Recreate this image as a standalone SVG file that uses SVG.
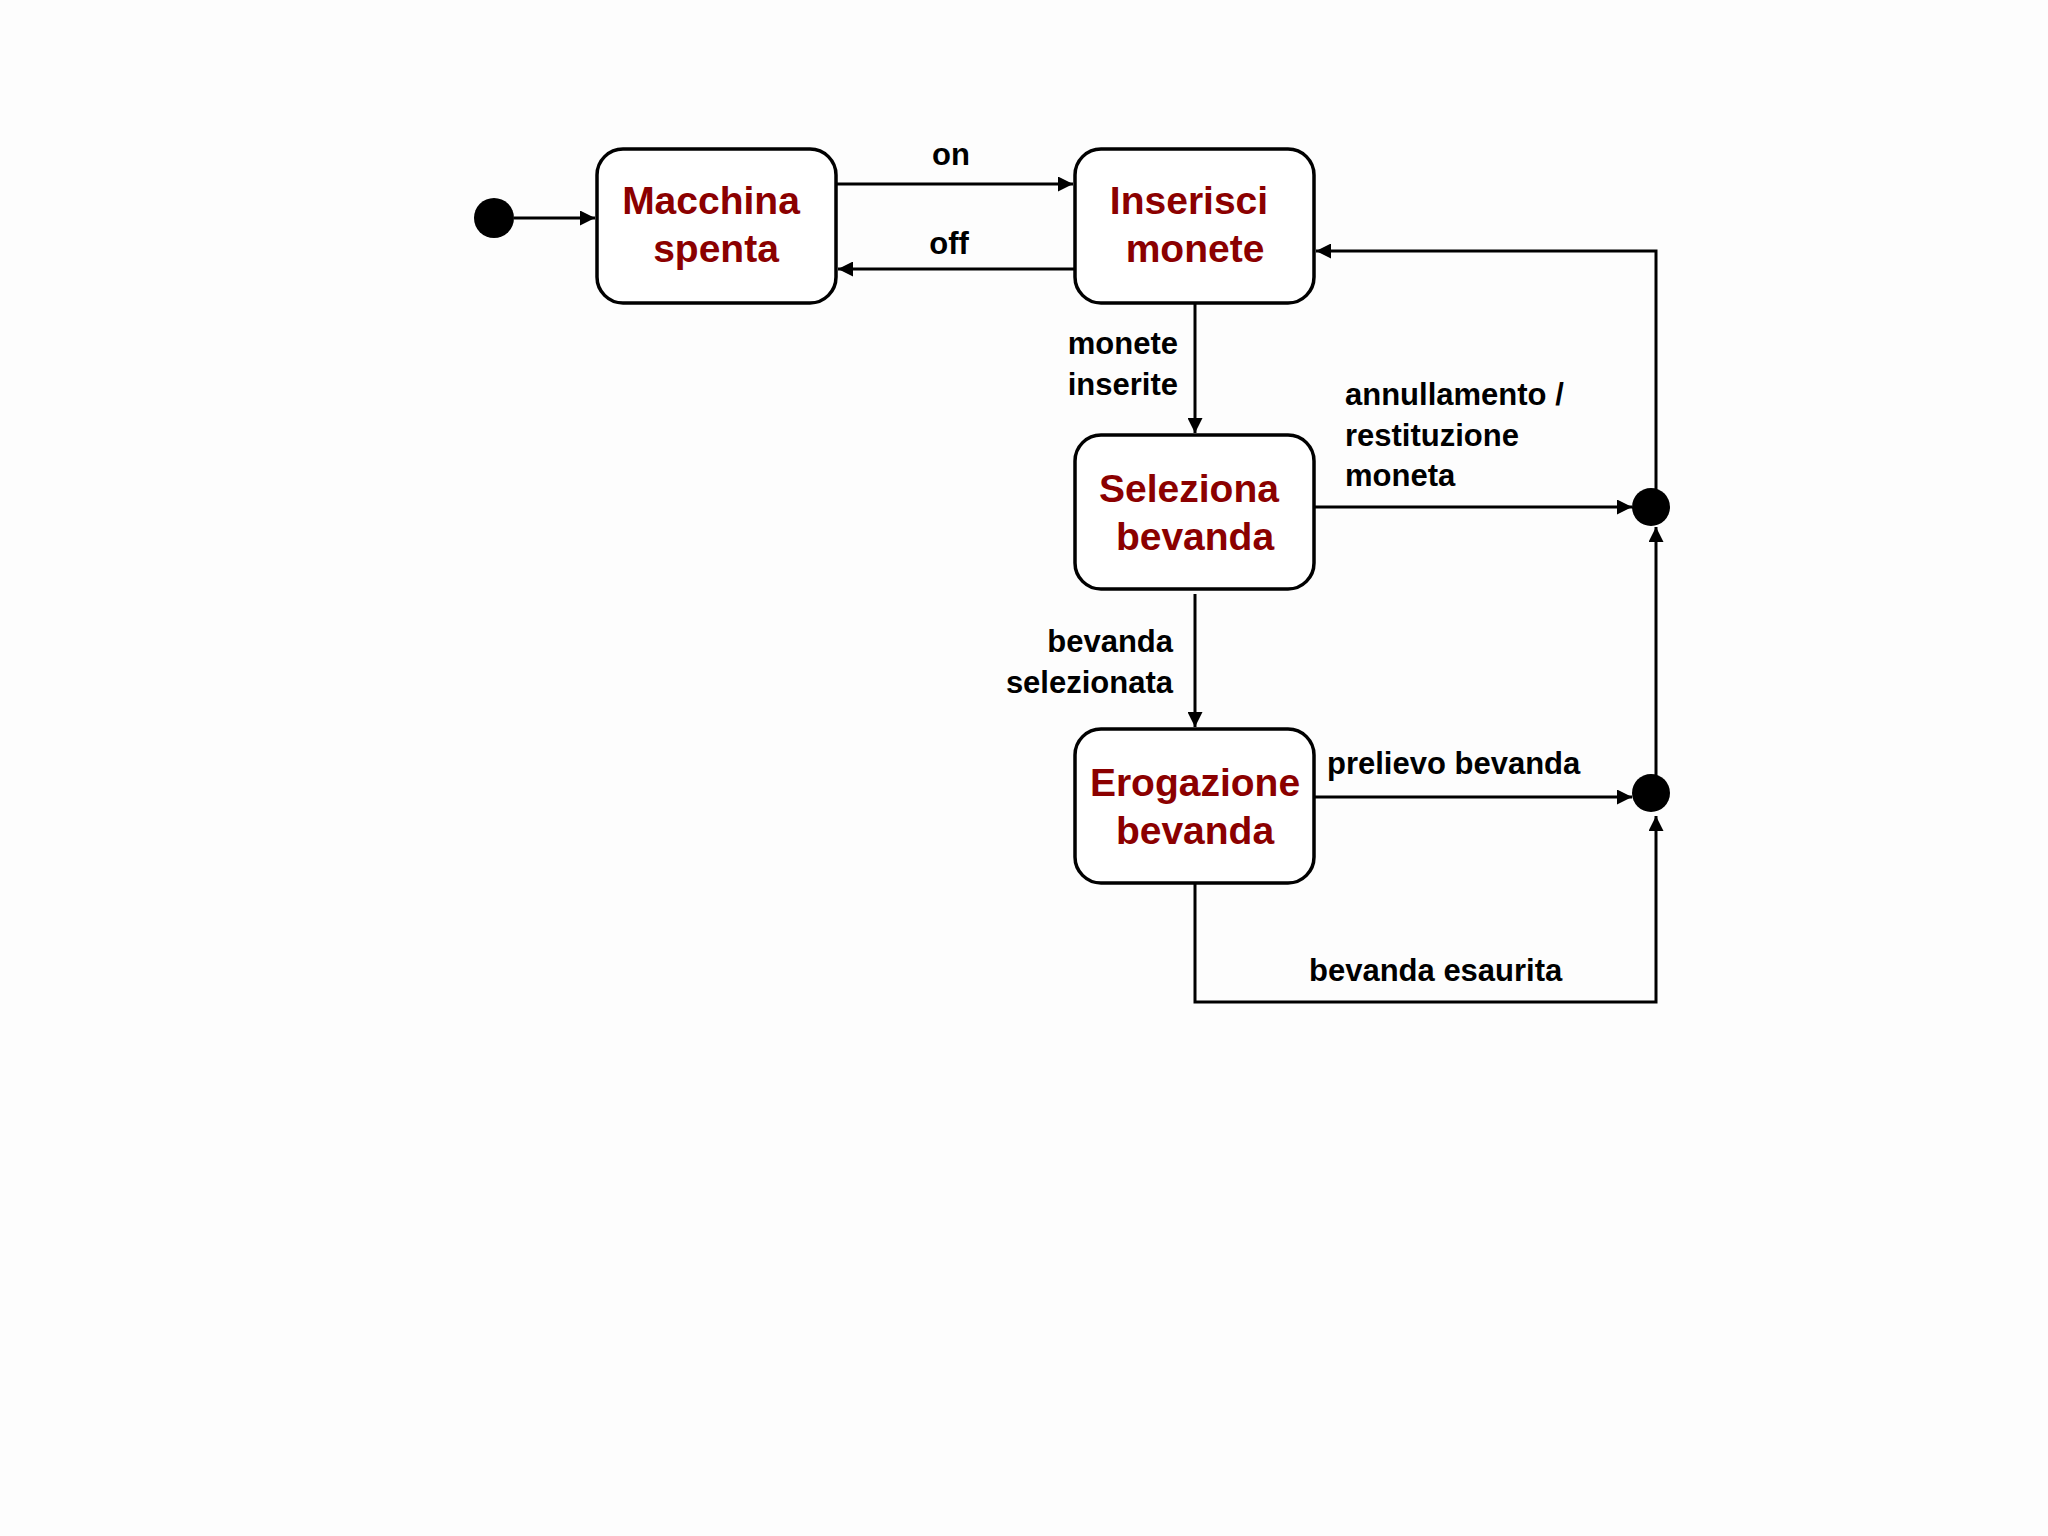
<svg xmlns="http://www.w3.org/2000/svg" width="2048" height="1536" viewBox="0 0 2048 1536">
<style>
.n{fill:#fff;stroke:#000;stroke-width:3.5}
.t{font-family:"Liberation Sans",Arial,sans-serif;font-weight:bold;font-size:39px;fill:#8B0000;text-anchor:middle}
.l{font-family:"Liberation Sans",Arial,sans-serif;font-weight:bold;font-size:31px;fill:#000}
.c{fill:none;stroke:#000;stroke-width:3}
</style>
<defs><marker id="a" viewBox="0 0 10 10" refX="10" refY="5" markerWidth="5" markerHeight="5" orient="auto" markerUnits="strokeWidth"><path d="M0,0L10,5L0,10z"/></marker></defs>
<rect width="2048" height="1536" fill="#fdfdfd"/>
<g id="init"><circle cx="494" cy="218" r="20"/></g>
<g id="macchina"><rect class="n" x="597" y="149" width="239" height="154" rx="26"/><text class="t" x="711" y="214">Macchina</text><text class="t" x="716" y="262">spenta</text></g>
<g id="inserisci"><rect class="n" x="1075" y="149" width="239" height="154" rx="26"/><text class="t" x="1189" y="214">Inserisci</text><text class="t" x="1195" y="262">monete</text></g>
<g id="seleziona"><rect class="n" x="1075" y="435" width="239" height="154" rx="26"/><text class="t" x="1189" y="502">Seleziona</text><text class="t" x="1195" y="550">bevanda</text></g>
<g id="erogazione"><rect class="n" x="1075" y="729" width="239" height="154" rx="26"/><text class="t" x="1195" y="796">Erogazione</text><text class="t" x="1195" y="844">bevanda</text></g>
<g id="j1"><circle cx="1651" cy="507" r="19"/></g>
<g id="j2"><circle cx="1651" cy="793" r="19"/></g>
<g id="connectors">
<path class="c" d="M514,218H595" marker-end="url(#a)"/>
<path class="c" d="M836,184H1073" marker-end="url(#a)"/>
<path class="c" d="M1075,269H838" marker-end="url(#a)"/>
<path class="c" d="M1195,303V433" marker-end="url(#a)"/>
<path class="c" d="M1195,594V727" marker-end="url(#a)"/>
<path class="c" d="M1314,507H1632" marker-end="url(#a)"/>
<path class="c" d="M1314,797H1632" marker-end="url(#a)"/>
<path class="c" d="M1656,793V527" marker-end="url(#a)"/>
<path class="c" d="M1656,507V251H1316" marker-end="url(#a)"/>
<path class="c" d="M1195,883V1002H1656V816" marker-end="url(#a)"/>
</g>
<g id="labels">
<text class="l" x="951" y="165" text-anchor="middle">on</text>
<text class="l" x="949" y="254" text-anchor="middle">off</text>
<text class="l" x="1178" y="354" text-anchor="end">monete</text>
<text class="l" x="1178" y="395" text-anchor="end">inserite</text>
<text class="l" x="1345" y="405">annullamento /</text>
<text class="l" x="1345" y="446">restituzione</text>
<text class="l" x="1345" y="486">moneta</text>
<text class="l" x="1173" y="652" text-anchor="end">bevanda</text>
<text class="l" x="1173" y="693" text-anchor="end">selezionata</text>
<text class="l" x="1327" y="774">prelievo bevanda</text>
<text class="l" x="1309" y="981">bevanda esaurita</text>
</g>
</svg>
